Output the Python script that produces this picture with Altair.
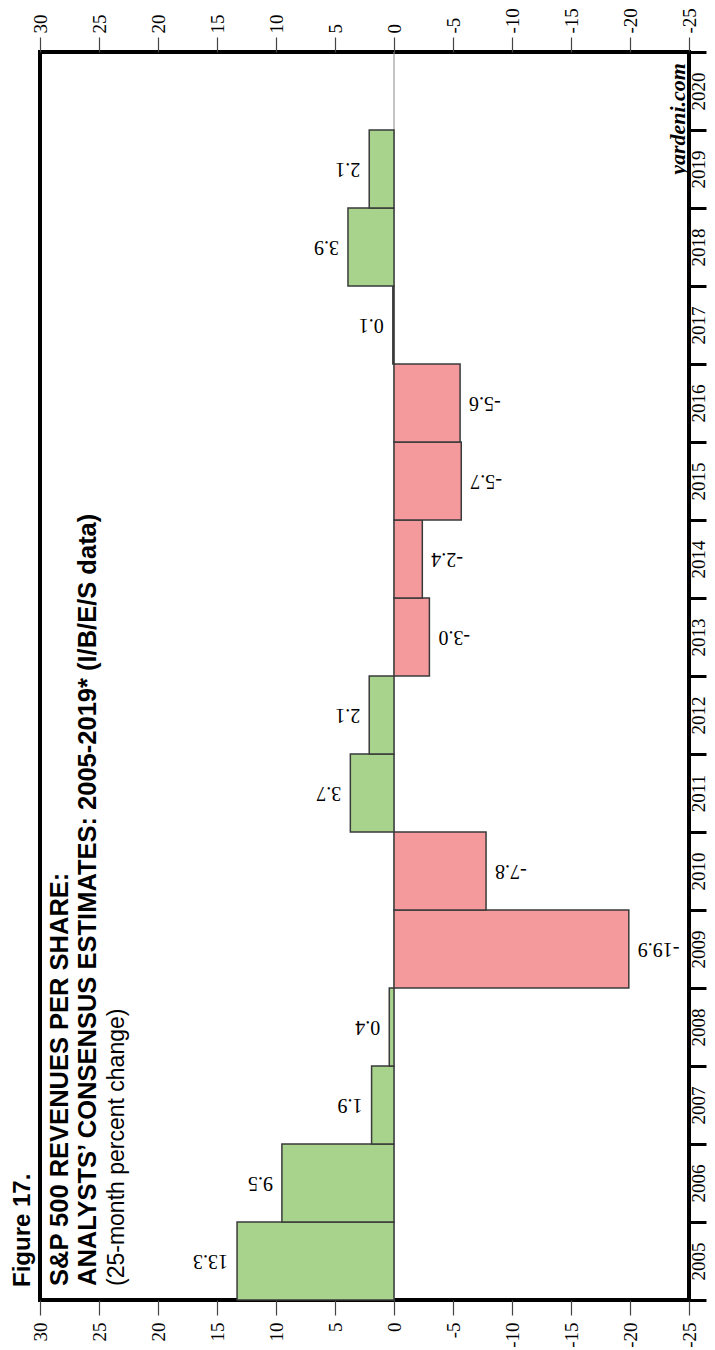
import altair as alt
import pandas as pd

# ---- data ----
years = ["2005", "2006", "2007", "2008", "2009", "2010", "2011", "2012",
         "2013", "2014", "2015", "2016", "2017", "2018", "2019"]
values = [13.3, 9.5, 1.9, 0.4, -19.9, -7.8, 3.7, 2.1,
          -3.0, -2.4, -5.7, -5.6, 0.1, 3.9, 2.1]
axis_years = [str(y) for y in range(2020, 2004, -1)]  # top -> bottom
x_ticks = [30, 25, 20, 15, 10, 5, 0, -5, -10, -15, -20, -25]

df = pd.DataFrame({"year": years, "value": values})
df["label"] = [f"{v:.1f}" for v in values]
df["sign"] = ["pos" if v >= 0 else "neg" for v in values]

GREEN = "#a8d38d"
PINK = "#f4999c"
BG = "#fdfbe7"
SERIF = "Liberation Serif"
SANS = "Liberation Sans"

xscale = alt.Scale(domain=[-25, 30], reverse=True, nice=False)
yscale = alt.Scale(domain=axis_years, paddingInner=0, paddingOuter=0)

axis_common = dict(
    values=x_ticks, labelAngle=270, labelFont=SERIF, labelFontSize=19,
    labelColor="black", tickSize=15, tickColor="#444", tickWidth=1.2,
    domain=False, grid=False, title=None, labelExpr="datum.value + ''",
    labelBaseline="middle",
)
x_bottom = alt.Axis(orient="bottom", labelAlign="right", labelPadding=7, **axis_common)
x_top = alt.Axis(orient="top", labelAlign="left", labelPadding=4, **axis_common)

y_right = alt.Axis(
    orient="right", labelAngle=270, labelAlign="center", labelBaseline="top",
    labelPadding=-17, labelFont=SERIF, labelFontSize=19, labelColor="black",
    tickSize=17, tickWidth=3, tickColor="black", tickBand="extent",
    domain=False, grid=False, title=None,
)
y_enc = alt.Y("year:O", scale=yscale, axis=y_right)

zero_rule = alt.Chart(pd.DataFrame({"v": [0]})).mark_rule(
    color="#8a8a8a", strokeWidth=1
).encode(x=alt.X("v:Q", scale=xscale, axis=None))

bars = alt.Chart(df).mark_bar(stroke="#3a3a3a", strokeWidth=1.5).encode(
    x=alt.X("value:Q", scale=xscale, axis=x_bottom),
    y=y_enc,
    color=alt.Color("sign:N", scale=alt.Scale(domain=["pos", "neg"], range=[GREEN, PINK]), legend=None),
)

pos_labels = alt.Chart(df).transform_filter("datum.value >= 0").mark_text(
    angle=180, align="left", baseline="middle", dx=9, font=SERIF, fontSize=20, color="black"
).encode(
    x=alt.X("value:Q", scale=xscale, axis=x_top),
    y=y_enc,
    text="label:N",
)

neg_labels = alt.Chart(df).transform_filter("datum.value < 0").mark_text(
    angle=180, align="right", baseline="middle", dx=-9, font=SERIF, fontSize=20, color="black"
).encode(
    x=alt.X("value:Q", scale=xscale, axis=None),
    y=y_enc,
    text="label:N",
)


def note(text, x, y, font, size, weight="normal", style="normal", align="left"):
    return alt.Chart(pd.DataFrame({"t": [text]})).mark_text(
        x=x, y=y, angle=270, align=align, baseline="alphabetic", font=font,
        fontSize=size, fontWeight=weight, fontStyle=style, color="black"
    ).encode(text="t:N")


fig = note("Figure 17.", -10, 1235, SANS, 24, weight="bold")
l1 = note("S&P 500 REVENUES PER SHARE:", 28, 1234, SANS, 25.5, weight="bold")
l2 = note("ANALYSTS\u2019 CONSENSUS ESTIMATES: 2005-2019* (I/B/E/S data)", 56, 1234, SANS, 25.5, weight="bold")
l3 = note("(25-month percent change)", 83.5, 1234, SANS, 23)
yard = note("yardeni.com", 645, 11, SERIF, 22, weight="bold", style="italic", align="right")

chart = alt.layer(
    zero_rule, bars, pos_labels, neg_labels, fig, l1, l2, l3, yard
).resolve_axis(x="independent").properties(
    width=649, height=1248,
    autosize=alt.AutoSizeParams(type="none"),
    padding={"left": 32, "top": 44, "right": 18, "bottom": 48},
    background="white",
).configure_view(fill=BG, stroke="black", strokeWidth=4)

chart.save("out.html", embed_options={"renderer": "svg", "actions": False})
